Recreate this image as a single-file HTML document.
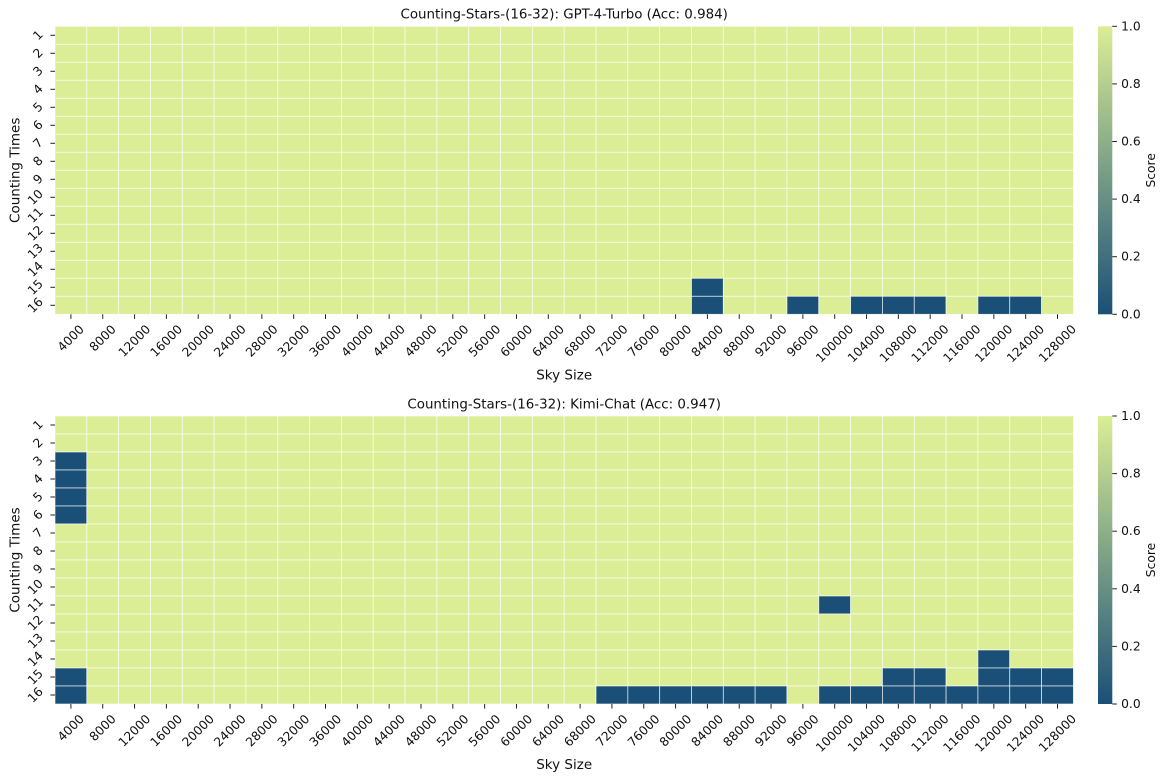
<!DOCTYPE html>
<html lang="en">
<head>
<meta charset="utf-8">
<title>Counting-Stars heatmaps</title>
<style>
html,body{margin:0;padding:0;background:#fff;}
svg{display:block;}
text{font-family:"DejaVu Sans","Liberation Sans",sans-serif;fill:#111;}
.tick{font-size:12.3px;}
.label{font-size:13.5px;}
.title{font-size:13.4px;}
</style>
</head>
<body>
<svg id="chart" xmlns="http://www.w3.org/2000/svg" width="1166" height="781" viewBox="0 0 1166 781">
<defs>
<linearGradient id="score-gradient" x1="0" y1="1" x2="0" y2="0">
<stop offset="0" stop-color="#1a5077"/>
<stop offset="1" stop-color="#dbee95"/>
</linearGradient>
</defs>
</svg>
<script>
const skySizes = [4000,8000,12000,16000,20000,24000,28000,32000,36000,40000,44000,48000,52000,56000,60000,64000,68000,72000,76000,80000,84000,88000,92000,96000,100000,104000,108000,112000,116000,120000,124000,128000];
const countingTimes = [1,2,3,4,5,6,7,8,9,10,11,12,13,14,15,16];
const colorbarTicks = [0,0.2,0.4,0.6,0.8,1];
const gptTitle = "Counting-Stars-(16-32): GPT-4-Turbo (Acc: 0.984)";
const kimiTitle = "Counting-Stars-(16-32): Kimi-Chat (Acc: 0.947)";
const gptScores = [
[1,1,1,1,1,1,1,1,1,1,1,1,1,1,1,1,1,1,1,1,1,1,1,1,1,1,1,1,1,1,1,1],
[1,1,1,1,1,1,1,1,1,1,1,1,1,1,1,1,1,1,1,1,1,1,1,1,1,1,1,1,1,1,1,1],
[1,1,1,1,1,1,1,1,1,1,1,1,1,1,1,1,1,1,1,1,1,1,1,1,1,1,1,1,1,1,1,1],
[1,1,1,1,1,1,1,1,1,1,1,1,1,1,1,1,1,1,1,1,1,1,1,1,1,1,1,1,1,1,1,1],
[1,1,1,1,1,1,1,1,1,1,1,1,1,1,1,1,1,1,1,1,1,1,1,1,1,1,1,1,1,1,1,1],
[1,1,1,1,1,1,1,1,1,1,1,1,1,1,1,1,1,1,1,1,1,1,1,1,1,1,1,1,1,1,1,1],
[1,1,1,1,1,1,1,1,1,1,1,1,1,1,1,1,1,1,1,1,1,1,1,1,1,1,1,1,1,1,1,1],
[1,1,1,1,1,1,1,1,1,1,1,1,1,1,1,1,1,1,1,1,1,1,1,1,1,1,1,1,1,1,1,1],
[1,1,1,1,1,1,1,1,1,1,1,1,1,1,1,1,1,1,1,1,1,1,1,1,1,1,1,1,1,1,1,1],
[1,1,1,1,1,1,1,1,1,1,1,1,1,1,1,1,1,1,1,1,1,1,1,1,1,1,1,1,1,1,1,1],
[1,1,1,1,1,1,1,1,1,1,1,1,1,1,1,1,1,1,1,1,1,1,1,1,1,1,1,1,1,1,1,1],
[1,1,1,1,1,1,1,1,1,1,1,1,1,1,1,1,1,1,1,1,1,1,1,1,1,1,1,1,1,1,1,1],
[1,1,1,1,1,1,1,1,1,1,1,1,1,1,1,1,1,1,1,1,1,1,1,1,1,1,1,1,1,1,1,1],
[1,1,1,1,1,1,1,1,1,1,1,1,1,1,1,1,1,1,1,1,1,1,1,1,1,1,1,1,1,1,1,1],
[1,1,1,1,1,1,1,1,1,1,1,1,1,1,1,1,1,1,1,1,0,1,1,1,1,1,1,1,1,1,1,1],
[1,1,1,1,1,1,1,1,1,1,1,1,1,1,1,1,1,1,1,1,0,1,1,0,1,0,0,0,1,0,0,1]
];
const kimiScores = [
[1,1,1,1,1,1,1,1,1,1,1,1,1,1,1,1,1,1,1,1,1,1,1,1,1,1,1,1,1,1,1,1],
[1,1,1,1,1,1,1,1,1,1,1,1,1,1,1,1,1,1,1,1,1,1,1,1,1,1,1,1,1,1,1,1],
[0,1,1,1,1,1,1,1,1,1,1,1,1,1,1,1,1,1,1,1,1,1,1,1,1,1,1,1,1,1,1,1],
[0,1,1,1,1,1,1,1,1,1,1,1,1,1,1,1,1,1,1,1,1,1,1,1,1,1,1,1,1,1,1,1],
[0,1,1,1,1,1,1,1,1,1,1,1,1,1,1,1,1,1,1,1,1,1,1,1,1,1,1,1,1,1,1,1],
[0,1,1,1,1,1,1,1,1,1,1,1,1,1,1,1,1,1,1,1,1,1,1,1,1,1,1,1,1,1,1,1],
[1,1,1,1,1,1,1,1,1,1,1,1,1,1,1,1,1,1,1,1,1,1,1,1,1,1,1,1,1,1,1,1],
[1,1,1,1,1,1,1,1,1,1,1,1,1,1,1,1,1,1,1,1,1,1,1,1,1,1,1,1,1,1,1,1],
[1,1,1,1,1,1,1,1,1,1,1,1,1,1,1,1,1,1,1,1,1,1,1,1,1,1,1,1,1,1,1,1],
[1,1,1,1,1,1,1,1,1,1,1,1,1,1,1,1,1,1,1,1,1,1,1,1,1,1,1,1,1,1,1,1],
[1,1,1,1,1,1,1,1,1,1,1,1,1,1,1,1,1,1,1,1,1,1,1,1,0,1,1,1,1,1,1,1],
[1,1,1,1,1,1,1,1,1,1,1,1,1,1,1,1,1,1,1,1,1,1,1,1,1,1,1,1,1,1,1,1],
[1,1,1,1,1,1,1,1,1,1,1,1,1,1,1,1,1,1,1,1,1,1,1,1,1,1,1,1,1,1,1,1],
[1,1,1,1,1,1,1,1,1,1,1,1,1,1,1,1,1,1,1,1,1,1,1,1,1,1,1,1,1,0,1,1],
[0,1,1,1,1,1,1,1,1,1,1,1,1,1,1,1,1,1,1,1,1,1,1,1,1,1,0,0,1,0,0,0],
[0,1,1,1,1,1,1,1,1,1,1,1,1,1,1,1,1,0,0,0,0,0,0,1,0,0,0,0,0,0,0,0]
];

const svgNS = "http://www.w3.org/2000/svg";
const root = document.getElementById("chart");
const low = [26,80,119];
const high = [219,238,149];
const plotLeft = 55, plotRight = 1073.4, barLeft = 1098, barRight = 1112.3;

function colorFor(v){
  const c = low.map(function(l,i){return Math.round(l+(high[i]-l)*v);});
  return "rgb("+c.join(",")+")";
}
function make(tag,attrs,parent){
  const el = document.createElementNS(svgNS,tag);
  for(const k in attrs){el.setAttribute(k,attrs[k]);}
  parent.appendChild(el);
  return el;
}
function labelBox(s){
  return (String(s).length*0.636*12+9)*0.7071;
}
function drawPanel(scores,title,panelName,top,bottom){
  const g = make("g",{},root);
  
  
  const xPos = function(i){return plotLeft+(plotRight-plotLeft)*i/skySizes.length;};
  const yPos = function(i){return top+(bottom-top)*i/countingTimes.length;};

  scores.forEach(function(row,r){
    row.forEach(function(v,c){
      const cell = make("rect",{x:xPos(c),y:yPos(r),width:xPos(c+1)-xPos(c),height:yPos(r+1)-yPos(r),fill:colorFor(v),stroke:"#ffffff","stroke-opacity":0.75,"stroke-width":0.8},g);
      
      
    });
  });

  skySizes.forEach(function(s,i){
    const x = (xPos(i)+xPos(i+1))/2;
    const tick = make("line",{x1:x,x2:x,y1:bottom,y2:bottom+4.6,stroke:"#222","stroke-width":1},g);
    
    
    const cy = bottom+10+labelBox(s)/2;
    const t = make("text",{x:x,y:cy,"class":"tick","text-anchor":"middle","dominant-baseline":"central",transform:"rotate(-45 "+x+" "+cy+")"},g);
    t.textContent = s;
    
    
  });

  countingTimes.forEach(function(n,i){
    const y = (yPos(i)+yPos(i+1))/2;
    const tick = make("line",{x1:plotLeft-4.6,x2:plotLeft,y1:y,y2:y,stroke:"#222","stroke-width":1},g);
    
    
    const cx = 44-labelBox(n)/2;
    const t = make("text",{x:cx,y:y,"class":"tick","text-anchor":"middle","dominant-baseline":"central",transform:"rotate(-45 "+cx+" "+y+")"},g);
    t.textContent = n;
    
    
  });

  const mid = (top+bottom)/2;
  const ttl = make("text",{x:(plotLeft+plotRight)/2,y:top-7.6,"class":"title","text-anchor":"middle"},g);
  ttl.textContent = title;
  
  

  const xl = make("text",{x:(plotLeft+plotRight)/2,y:bottom+65,"class":"label","text-anchor":"middle"},g);
  xl.textContent = "Sky Size";
  
  

  const yl = make("text",{x:19.5,y:mid,"class":"label","text-anchor":"middle",transform:"rotate(-90 19.5 "+mid+")"},g);
  yl.textContent = "Counting Times";
  
  

  const bar = make("rect",{x:barLeft,y:top,width:barRight-barLeft,height:bottom-top,fill:"url(#score-gradient)"},g);
  
  

  colorbarTicks.forEach(function(v){
    const y = bottom-(bottom-top)*v;
    const tick = make("line",{x1:barRight,x2:barRight+4.6,y1:y,y2:y,stroke:"#222","stroke-width":1},g);
    
    
    const t = make("text",{x:barRight+8.8,y:y,"class":"tick","dominant-baseline":"central"},g);
    t.textContent = v.toFixed(1);
    
    
  });

  const cl = make("text",{x:1155,y:mid,"class":"tick","text-anchor":"middle",transform:"rotate(-90 1155 "+mid+")"},g);
  cl.textContent = "Score";
  
  
}
drawPanel(gptScores,gptTitle,"gpt-4-turbo-heatmap",26.3,314.3);
drawPanel(kimiScores,kimiTitle,"kimi-chat-heatmap",416,704);
</script>
</body>
</html>
